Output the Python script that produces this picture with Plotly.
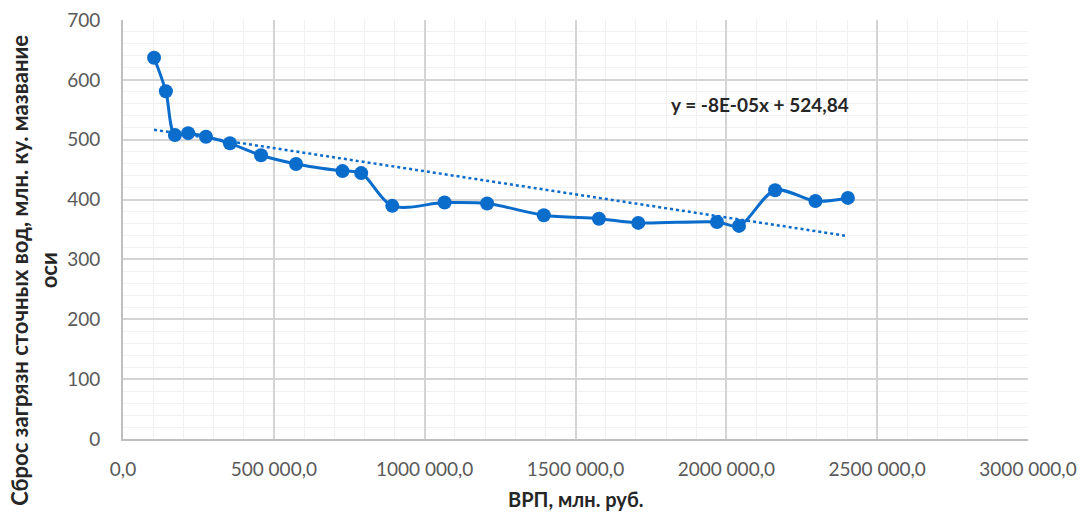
import numpy as np
import plotly.graph_objects as go

# Data
grp = [103000, 142000, 172000, 216000, 275000, 354500, 457500, 573600, 727600, 789600,
       892600, 1066000, 1207000, 1394900, 1577700, 1708000, 1969000, 2042000, 2161700,
       2295400, 2402900]
discharge = [637, 581, 508, 511, 505, 494, 474, 459.5, 447.6, 444.2,
             389.5, 395, 393.5, 373.8, 368, 361, 362.6, 356, 415.6, 397.5, 402.8]

x_tickvals = [0, 500000, 1000000, 1500000, 2000000, 2500000, 3000000]
x_ticktext = ["0,0", "500 000,0", "1000 000,0", "1500 000,0", "2000 000,0", "2500 000,0", "3000 000,0"]
y_tickvals = [0, 100, 200, 300, 400, 500, 600, 700]

trend_label = "y = -8E-05x + 524,84"
x_title = "ВРП, млн. руб."
y_title = "Сброс загрязн сточных вод, млн. ку. мазвание<br>оси"

# Linear trendline (least squares, as in Excel)
k, b = np.polyfit(grp, discharge, 1)
tx = [min(grp), max(grp)]
ty = [k * v + b for v in tx]

BLUE = "#0A6CCB"
FONT = "Lato"

fig = go.Figure()
fig.add_trace(go.Scatter(x=tx, y=ty, mode="lines",
                         line=dict(color=BLUE, width=2.5, dash="dot"),
                         showlegend=False, hoverinfo="skip"))
fig.add_trace(go.Scatter(x=grp, y=discharge, mode="lines+markers",
                         line=dict(color=BLUE, width=3, shape="spline", smoothing=0.9),
                         marker=dict(color=BLUE, size=14),
                         showlegend=False))

fig.add_annotation(x=2110000, y=559, xref="x", yref="y", text="<b>" + trend_label + "</b>",
                   showarrow=False, font=dict(family=FONT, size=19, color="#262626"))

fig.add_annotation(x=-0.0978, y=0.403, xref="paper", yref="paper", textangle=-90,
                   text="<b>" + y_title + "</b>", showarrow=False,
                   xanchor="center", yanchor="middle",
                   font=dict(family=FONT, size=22, color="#262626"))
fig.add_annotation(x=0.5, y=-0.144, xref="paper", yref="paper",
                   text="<b>" + x_title + "</b>", showarrow=False,
                   xanchor="center", yanchor="middle",
                   font=dict(family=FONT, size=20, color="#262626"))

fig.update_layout(
    width=1080, height=512,
    margin=dict(l=123, r=52, t=20, b=73),
    paper_bgcolor="white", plot_bgcolor="white",
    font=dict(family=FONT, size=19, color="#595959"),
    xaxis=dict(range=[0, 3000000], tickvals=x_tickvals, ticktext=x_ticktext,
               automargin=False,
               showgrid=True, gridcolor="#D4D4D4", gridwidth=1.5,
               minor=dict(dtick=100000, showgrid=True, gridcolor="#F0F0F0", gridwidth=1),
               showline=True, linecolor="#BFBFBF", linewidth=2,
               zeroline=False, ticks="outside", ticklen=12, tickcolor="rgba(0,0,0,0)"),
    yaxis=dict(range=[0, 700], tickvals=y_tickvals,
               automargin=False,
               showgrid=True, gridcolor="#D4D4D4", gridwidth=1.5,
               minor=dict(dtick=20, showgrid=True, gridcolor="#F0F0F0", gridwidth=1),
               showline=True, linecolor="#BFBFBF", linewidth=2,
               zeroline=False, ticks="outside", ticklen=17, tickcolor="rgba(0,0,0,0)"),
)

# Remove the browser's default 8px body margin so the figure fills the window
fig.write_html("out.html", config={"displayModeBar": False},
               post_script="document.body.style.margin='0';")
